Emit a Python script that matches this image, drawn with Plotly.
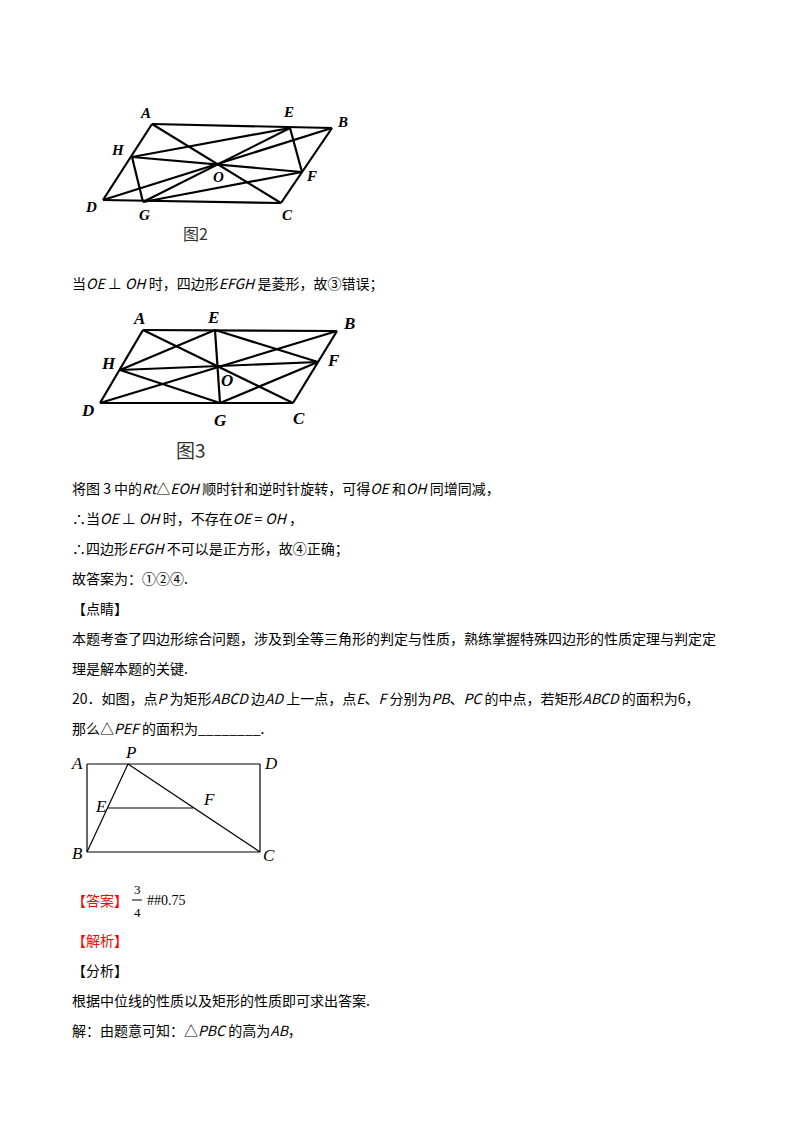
import plotly.graph_objects as go

# figure 2 (parallelogram)
fig2_pts = ['A', 'B', 'C', 'D', 'E', 'F', 'G', 'H', 'O']
fig2_x = [152, 332, 281, 103, 290, 302, 143, 132, 215]
fig2_y = [124, 128, 203, 200, 128, 172, 202, 157, 164]
fig2_lab_x = [145, 342, 287, 91, 288, 311, 144, 118, 218]
fig2_lab_y = [113, 122, 215, 207, 112, 176, 215, 150, 177]

# figure 3
fig3_x = [143, 337, 293, 100, 215, 318, 220, 120, 218]
fig3_y = [330, 331, 403, 403, 330, 362, 403, 370, 366]
fig3_lab_x = [139, 349, 299, 87, 213, 333, 220, 108, 227]
fig3_lab_y = [318, 323, 418, 410, 317, 360, 420, 363, 380]

quad_segments = [('A', 'B'), ('B', 'C'), ('C', 'D'), ('D', 'A'), ('A', 'C'), ('B', 'D'),
                 ('E', 'G'), ('H', 'F'), ('E', 'F'), ('F', 'G'), ('G', 'H'), ('H', 'E')]

# problem 20 (rectangle)
rect_pts = ['A', 'D', 'B', 'C', 'P', 'E', 'F']
rect_x = [87, 260, 87, 260, 128, 108, 193]
rect_y = [764, 764, 852, 852, 764, 808, 808]
rect_lab_x = [77, 271, 77, 269, 130, 101, 209]
rect_lab_y = [763, 763, 853, 855, 752, 806, 799]
rect_segments = [('A', 'D'), ('D', 'C'), ('C', 'B'), ('B', 'A'), ('P', 'B'), ('P', 'C'), ('E', 'F')]

text_y = [283, 488, 518, 548, 578, 608, 638, 668, 698, 728, 970, 1000, 1030]
text_lines = [
    '当<i>OE</i> ⊥ <i>OH</i> 时，四边形<i>EFGH</i> 是菱形，故③错误；',
    '将图 3 中的<i>Rt</i>△<i>EOH</i> 顺时针和逆时针旋转，可得<i>OE</i> 和<i>OH</i> 同增同减，',
    '∴当<i>OE</i> ⊥ <i>OH</i> 时，不存在<i>OE</i> = <i>OH</i> ，',
    '∴四边形<i>EFGH</i> 不可以是正方形，故④正确；',
    '故答案为：①②④.',
    '【点睛】',
    '本题考查了四边形综合问题，涉及到全等三角形的判定与性质，熟练掌握特殊四边形的性质定理与判定定',
    '理是解本题的关键.',
    '20．如图，点<i>P</i> 为矩形<i>ABCD</i> 边<i>AD</i> 上一点，点<i>E</i>、<i>F</i> 分别为<i>PB</i>、<i>PC</i> 的中点，若矩形<i>ABCD</i> 的面积为6，',
    '那么△<i>PEF</i> 的面积为________.',
    '【分析】',
    '根据中位线的性质以及矩形的性质即可求出答案.',
    '解：由题意可知：△<i>PBC</i> 的高为<i>AB</i>，',
]

FONT = 'Noto Sans CJK SC'
SERIF = 'Liberation Serif'
fig = go.Figure()


def add_segments(names, xs, ys, segs, width):
    pos = {n: (x, y) for n, x, y in zip(names, xs, ys)}
    lx, ly = [], []
    for a, b in segs:
        lx += [pos[a][0], pos[b][0], None]
        ly += [pos[a][1], pos[b][1], None]
    fig.add_trace(go.Scatter(x=lx, y=ly, mode='lines', line=dict(color='black', width=width),
                             hoverinfo='skip', showlegend=False))


def add_labels(names, xs, ys, bold, size):
    for n, x, y in zip(names, xs, ys):
        t = '<b><i>%s</i></b>' % n if bold else '<i>%s</i>' % n
        fig.add_annotation(x=x, y=y, text=t, showarrow=False,
                           font=dict(family=SERIF, size=size, color='black'))


add_segments(fig2_pts, fig2_x, fig2_y, quad_segments, 2.2)
add_labels(fig2_pts, fig2_lab_x, fig2_lab_y, True, 15)
add_segments(fig2_pts, fig3_x, fig3_y, quad_segments, 2.2)
add_labels(fig2_pts, fig3_lab_x, fig3_lab_y, True, 17)
add_segments(rect_pts, rect_x, rect_y, rect_segments, 1.2)
add_labels(rect_pts, rect_lab_x, rect_lab_y, False, 17)

fig.add_annotation(x=195, y=233, text='图2', showarrow=False, font=dict(family=FONT, size=16, color='#333'))
fig.add_annotation(x=191, y=449, text='图3', showarrow=False, font=dict(family=FONT, size=19, color='#333'))

for y, t in zip(text_y, text_lines):
    fig.add_annotation(x=70, y=y, text=t, showarrow=False, xanchor='left',
                       font=dict(family=FONT, size=14, color='black'))

fig.add_annotation(x=70, y=900, text='【答案】', showarrow=False, xanchor='left',
                   font=dict(family=FONT, size=14, color='red'))
fig.add_annotation(x=137, y=889, text='3', showarrow=False, font=dict(family=SERIF, size=13, color='black'))
fig.add_annotation(x=137, y=912, text='4', showarrow=False, font=dict(family=SERIF, size=13, color='black'))
fig.add_shape(type='line', x0=132, x1=142, y0=900, y1=900, line=dict(color='black', width=1))
fig.add_annotation(x=145, y=900, text='##0.75', showarrow=False, xanchor='left',
                   font=dict(family=SERIF, size=14, color='black'))
fig.add_annotation(x=70, y=940, text='【解析】', showarrow=False, xanchor='left',
                   font=dict(family=FONT, size=14, color='red'))

# page body margin shifts the plot by 8px, so offset the ranges
fig.update_xaxes(range=[8, 808], visible=False)
fig.update_yaxes(range=[1140, 8], visible=False)
fig.update_layout(width=800, height=1132, margin=dict(l=0, r=0, t=0, b=0),
                  plot_bgcolor='white', paper_bgcolor='white')
fig.write_html('out.html')
